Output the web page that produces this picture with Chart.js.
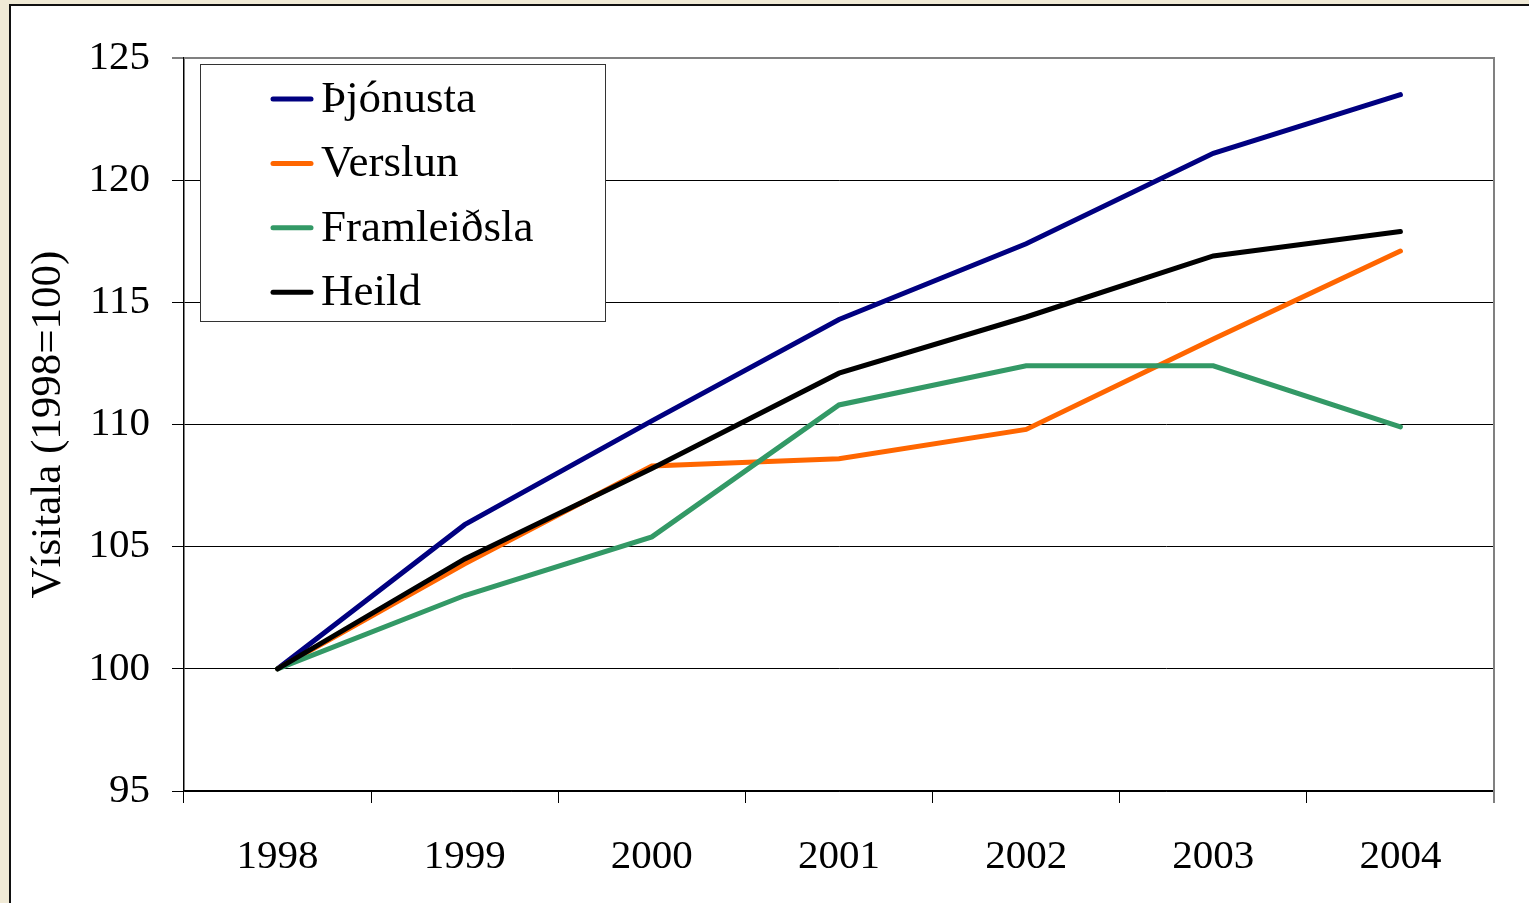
<!DOCTYPE html>
<html>
<head>
<meta charset="utf-8">
<script src="https://cdn.jsdelivr.net/npm/chart.js@4.4.1/dist/chart.umd.min.js"></script>
<style>
  html, body { margin: 0; padding: 0; background: #F0EAD6; }
  canvas { display: block; }
</style>
</head>
<body>
<canvas id="c" width="1529" height="903"></canvas>
<script>
const categories = ['1998', '1999', '2000', '2001', '2002', '2003', '2004'];
const seriesNames = ['Þjónusta', 'Verslun', 'Framleiðsla', 'Heild'];
const thjonusta   = [100, 105.9, 110.15, 114.3, 117.4, 121.1, 123.5];
const verslun     = [100, 104.3, 108.3, 108.6, 109.8, 113.5, 117.1];
const framleidsla = [100, 103.0, 105.4, 110.8, 112.4, 112.4, 109.9];
const heild       = [100, 104.5, 108.2, 112.1, 114.4, 116.9, 117.9];
const seriesColors = ['#000080', '#FF6600', '#339966', '#000000'];
const yTicks = [95, 100, 105, 110, 115, 120, 125];
const yTitle = 'Vísitala (1998=100)';

const FONT = "'Liberation Serif', 'Times New Roman', serif";

const frame = {
  id: 'frame',
  beforeDraw(chart) {
    const c = chart.ctx;
    c.save();
    c.fillStyle = '#F0EAD6';
    c.fillRect(0, 0, chart.width, chart.height);
    c.fillStyle = '#ffffff';
    c.fillRect(10, 5, chart.width, chart.height);
    c.strokeStyle = '#111';
    c.lineWidth = 2;
    c.beginPath();
    c.moveTo(10, chart.height + 5);
    c.lineTo(10, 5);
    c.lineTo(chart.width + 5, 5);
    c.stroke();
    c.restore();
  },
  beforeDatasetsDraw(chart) {
    const a = chart.chartArea, c = chart.ctx;
    c.save();
    c.strokeStyle = '#808080';
    c.lineWidth = 2;
    c.beginPath();
    c.moveTo(a.left, a.top);
    c.lineTo(a.right, a.top);
    c.lineTo(a.right, a.bottom + 12);
    c.stroke();
    c.restore();
  },
  afterDraw(chart) {
    const c = chart.ctx;
    const bx = 200, by = 64, bw = 405, bh = 257;
    c.save();
    c.fillStyle = '#ffffff';
    c.fillRect(bx, by, bw, bh);
    c.strokeStyle = '#333';
    c.lineWidth = 1;
    c.strokeRect(bx + 0.5, by + 0.5, bw, bh);
    c.font = '45px ' + FONT;
    c.textBaseline = 'middle';
    c.textAlign = 'left';
    chart.data.datasets.forEach((ds, i) => {
      const y = 99 + i * 64.4;
      c.strokeStyle = ds.borderColor;
      c.lineWidth = 5;
      c.lineCap = 'round';
      c.beginPath();
      c.moveTo(273, y);
      c.lineTo(311, y);
      c.stroke();
      c.fillStyle = '#000';
      c.fillText(ds.label, 321, y + 1);
    });
    c.restore();
  }
};

const seriesData = [thjonusta, verslun, framleidsla, heild];

new Chart(document.getElementById('c'), {
  type: 'line',
  data: {
    labels: categories,
    datasets: seriesNames.map((name, i) => ({
      label: name,
      data: seriesData[i],
      borderColor: seriesColors[i],
      backgroundColor: seriesColors[i],
      borderWidth: 5,
      borderCapStyle: 'round',
      borderJoinStyle: 'miter',
      pointRadius: 0,
      tension: 0,
      fill: false,
      order: seriesNames.length - 1 - i
    }))
  },
  options: {
    responsive: false,
    animation: false,
    layout: { padding: { top: 58, right: 35, left: 0, bottom: 0 } },
    plugins: { legend: { display: false }, tooltip: { enabled: false } },
    scales: {
      x: {
        type: 'category',
        offset: true,
        afterFit(s) { s.height = 112; },
        grid: {
          offset: true,
          drawOnChartArea: false,
          drawTicks: true,
          tickLength: 12,
          color: '#000',
          lineWidth: 1
        },
        border: { display: true, color: '#000', width: 1.5 },
        ticks: {
          color: '#000',
          font: { family: FONT, size: 41 },
          padding: 30,
          maxRotation: 0
        }
      },
      y: {
        min: 95,
        max: 125,
        afterFit(s) { s.width = 184; },
        afterBuildTicks(s) { s.ticks = yTicks.map(v => ({ value: v })); },
        grid: {
          drawTicks: true,
          tickLength: 12,
          color: (ctx) => (ctx.tick && ctx.tick.value === 125) ? '#808080' : '#000',
          lineWidth: (ctx) => (ctx.tick && ctx.tick.value === 125) ? 2 : 1
        },
        border: { display: true, color: '#000', width: 1.5 },
        ticks: {
          color: '#000',
          font: { family: FONT, size: 41 },
          padding: 22
        },
        title: {
          display: true,
          text: yTitle,
          color: '#000',
          font: { family: FONT, size: 43 },
          padding: { top: 23, bottom: 0 }
        }
      }
    }
  },
  plugins: [frame]
});
</script>
</body>
</html>
